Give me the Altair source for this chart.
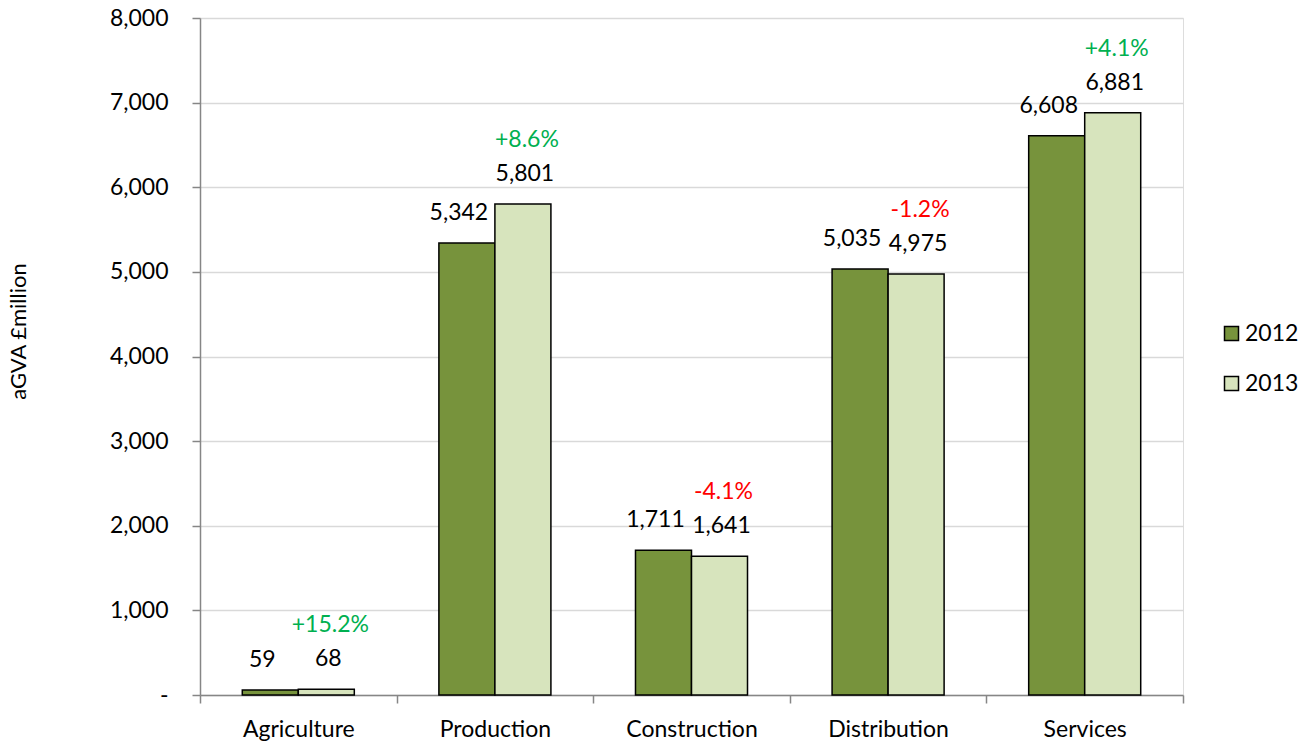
import altair as alt
import pandas as pd

categories = ["Agriculture", "Production", "Construction", "Distribution", "Services"]
years = ["2012", "2013"]
values_2012 = [59, 5342, 1711, 5035, 6608]
values_2013 = [68, 5801, 1641, 4975, 6881]
pct_labels = ["+15.2%", "+8.6%", "-4.1%", "-1.2%", "+4.1%"]
y_ticks = [0, 1000, 2000, 3000, 4000, 5000, 6000, 7000, 8000]
colors = ["#77933C", "#D7E4BD"]

rows = []
for c, a, b in zip(categories, values_2012, values_2013):
    rows.append({"category": c, "year": years[0], "value": a})
    rows.append({"category": c, "year": years[1], "value": b})
df = pd.DataFrame(rows)
pct_df = pd.DataFrame({"category": categories, "year": years[1],
                       "value": values_2013, "pct": pct_labels})

FONT = "Lato"
FS = 23
AXIS_GRAY = "#868686"

x_enc = alt.X("category:N", sort=categories,
              scale=alt.Scale(paddingInner=0, paddingOuter=0),
              axis=alt.Axis(title=None, labelAngle=0, tickBand="extent",
                            labelFontSize=FS, labelFont=FONT, labelColor="black",
                            labelPadding=15, tickSize=8, tickColor=AXIS_GRAY,
                            tickWidth=1.5, domainColor=AXIS_GRAY, domainWidth=1.5,
                            grid=False))
xoff = alt.XOffset("year:N", scale=alt.Scale(domain=years, paddingInner=0, paddingOuter=0.755))
y_enc = alt.Y("value:Q",
              scale=alt.Scale(domain=[0, 8000], nice=False),
              axis=alt.Axis(title="aGVA £million", values=y_ticks,
                            labelExpr="datum.value == 0 ? '-    ' : format(datum.value, ',')",
                            labelFontSize=FS, labelFont=FONT, labelColor="black",
                            labelPadding=24, tickSize=8, tickColor=AXIS_GRAY,
                            tickWidth=1.5, domainColor=AXIS_GRAY, domainWidth=1.5,
                            gridColor="#D9D9D9", gridWidth=1.5,
                            titleFontSize=22, titleFont=FONT, titleFontWeight="normal",
                            titleColor="black", titleAngle=-90, titleX=-182, titleY=313,
                            titleAlign="center", titleBaseline="middle"))

bars = alt.Chart(df).mark_bar(stroke="black", strokeWidth=1.5).encode(
    x=x_enc, xOffset=xoff, y=y_enc,
    color=alt.Color("year:N", scale=alt.Scale(domain=years, range=colors),
                    legend=alt.Legend(title=None, orient="none", legendX=1020, legendY=304,
                                      padding=0, symbolType="square", symbolSize=196,
                                      symbolStrokeColor="black", symbolStrokeWidth=1.5,
                                      labelFontSize=FS, labelFont=FONT, labelColor="black",
                                      labelOffset=2, rowPadding=26)),
)

base_text = dict(font=FONT, fontSize=FS, color="black", baseline="middle", dy=-30)

labels_2012 = alt.Chart(df).transform_filter(
    alt.datum.year == years[0]
).mark_text(dx=-8, **base_text).encode(
    x=alt.X("category:N", sort=categories), xOffset=xoff,
    y=alt.Y("value:Q"),
    text=alt.Text("value:Q", format=","),
)

labels_2013 = alt.Chart(df).transform_filter(
    alt.datum.year == years[1]
).mark_text(dx=2, **base_text).encode(
    x=alt.X("category:N", sort=categories), xOffset=xoff,
    y=alt.Y("value:Q"),
    text=alt.Text("value:Q", format=","),
)

pct_text = alt.Chart(pct_df).mark_text(
    font=FONT, fontSize=FS, baseline="middle", dy=-64, dx=4
).encode(
    x=alt.X("category:N", sort=categories),
    xOffset=xoff,
    y=alt.Y("value:Q"),
    text="pct:N",
    color=alt.condition("indexof(datum.pct, '-') == 0", alt.value("#FF0000"), alt.value("#00B050")),
)

chart = alt.layer(bars, labels_2012, labels_2013, pct_text).properties(
    width=983, height=677,
    padding={"left": 200, "top": 18, "right": 119, "bottom": 49},
    autosize=alt.AutoSizeParams(type="none"),
).configure_view(stroke=None).configure(background="white")

chart.save("out.html", embed_options={"renderer": "svg", "actions": False})
